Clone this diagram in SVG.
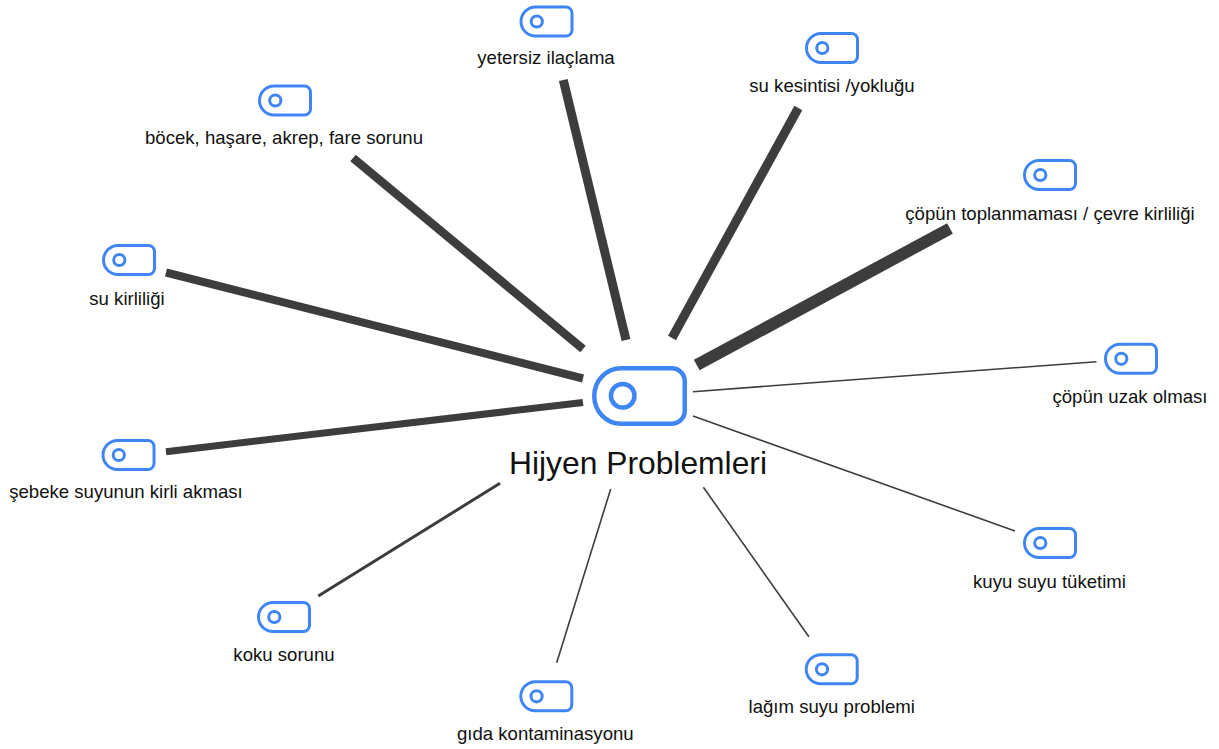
<svg xmlns="http://www.w3.org/2000/svg" xmlns:xlink="http://www.w3.org/1999/xlink" width="1219" height="749" viewBox="0 0 1219 749">
  <style>
    .lbl { font-family: "Liberation Sans", Arial, Helvetica, sans-serif; font-size: 18.6px; fill: #111; text-anchor: middle; }
    .title { font-family: "Liberation Sans", Arial, Helvetica, sans-serif; font-size: 31.8px; fill: #111; text-anchor: middle; }
    .ico { fill: none; stroke: #3f86f4; stroke-width: 3; }
    .ico-big { fill: none; stroke: #3f86f4; stroke-width: 4.5; }
    .edge { stroke: #3d3d3d; stroke-linecap: butt; fill: none; }
  </style>
  <defs>
    <!-- small tag icon, centred on the origin -->
    <g id="tag">
      <path class="ico" d="M -11,-14.5 H 19.5 A6,6 0 0 1 25.5,-8.5 V 8.5 A6,6 0 0 1 19.5,14.5 H -11 A14.5,14.5 0 0 1 -25.5,0 A14.5,14.5 0 0 1 -11,-14.5 Z"/>
      <circle class="ico" cx="-9.7" cy="0" r="5.6"/>
    </g>
  </defs>
  <rect width="1219" height="749" fill="#ffffff"/>

  <!-- connectors -->
  <g id="connectors">
    <line class="edge" x1="626" y1="340" x2="563.3" y2="80" stroke-width="9"/>
    <line class="edge" x1="672" y1="338" x2="798.3" y2="108" stroke-width="9"/>
    <line class="edge" x1="583" y1="349" x2="353" y2="158" stroke-width="8.5"/>
    <line class="edge" x1="696.7" y1="365" x2="950" y2="228.5" stroke-width="12"/>
    <line class="edge" x1="583" y1="378.5" x2="166" y2="272.5" stroke-width="8"/>
    <line class="edge" x1="583" y1="402.5" x2="166" y2="451.7" stroke-width="7"/>
    <line class="edge" x1="693" y1="391.7" x2="1096.5" y2="361.7" stroke-width="1.6"/>
    <line class="edge" x1="693" y1="416" x2="1015" y2="531" stroke-width="1.6"/>
    <line class="edge" x1="500" y1="483.3" x2="318.3" y2="596" stroke-width="3"/>
    <line class="edge" x1="610.7" y1="489" x2="556.7" y2="662.7" stroke-width="1.6"/>
    <line class="edge" x1="703.4" y1="487.3" x2="808.9" y2="636.7" stroke-width="1.6"/>
  </g>

  <!-- central node -->
  <g id="node-hijyen">
    <path class="ico-big" d="M 621,368.25 H 671.75 A13,13 0 0 1 684.75,381.25 V 410.75 A13,13 0 0 1 671.75,423.75 H 621 A26.75,27.75 0 0 1 594.25,396 A26.75,27.75 0 0 1 621,368.25 Z"/>
    <circle class="ico-big" cx="622.7" cy="395.7" r="11.8"/>
    <text class="title" x="638" y="473.5">Hijyen Problemleri</text>
  </g>

  <g id="node-ilaclama">
    <use xlink:href="#tag" x="546.5" y="21.5"/>
    <text class="lbl" x="546" y="63.5">yetersiz ilaçlama</text>
  </g>
  <g id="node-kesinti">
    <use xlink:href="#tag" x="832" y="48"/>
    <text class="lbl" x="832" y="92">su kesintisi /yokluğu</text>
  </g>
  <g id="node-bocek">
    <use xlink:href="#tag" x="285" y="100.5"/>
    <text class="lbl" x="284" y="144">böcek, haşare, akrep, fare sorunu</text>
  </g>
  <g id="node-cop-toplanma">
    <use xlink:href="#tag" x="1050" y="175"/>
    <text class="lbl" x="1050" y="219.5">çöpün toplanmaması / çevre kirliliği</text>
  </g>
  <g id="node-su-kirliligi">
    <use xlink:href="#tag" x="129" y="260"/>
    <text class="lbl" x="127" y="305">su kirliliği</text>
  </g>
  <g id="node-cop-uzak">
    <use xlink:href="#tag" x="1131" y="358.8"/>
    <text class="lbl" x="1130" y="402.7">çöpün uzak olması</text>
  </g>
  <g id="node-sebeke">
    <use xlink:href="#tag" x="128.5" y="455"/>
    <text class="lbl" x="126" y="498">şebeke suyunun kirli akması</text>
  </g>
  <g id="node-kuyu">
    <use xlink:href="#tag" x="1050" y="543"/>
    <text class="lbl" x="1049.5" y="587.5">kuyu suyu tüketimi</text>
  </g>
  <g id="node-koku">
    <use xlink:href="#tag" x="284" y="617"/>
    <text class="lbl" x="284" y="660.7">koku sorunu</text>
  </g>
  <g id="node-gida">
    <use xlink:href="#tag" x="546.3" y="696.3"/>
    <text class="lbl" x="545.3" y="740">gıda kontaminasyonu</text>
  </g>
  <g id="node-lagim">
    <use xlink:href="#tag" x="831.7" y="669.3"/>
    <text class="lbl" x="831.7" y="713.3">lağım suyu problemi</text>
  </g>
</svg>
